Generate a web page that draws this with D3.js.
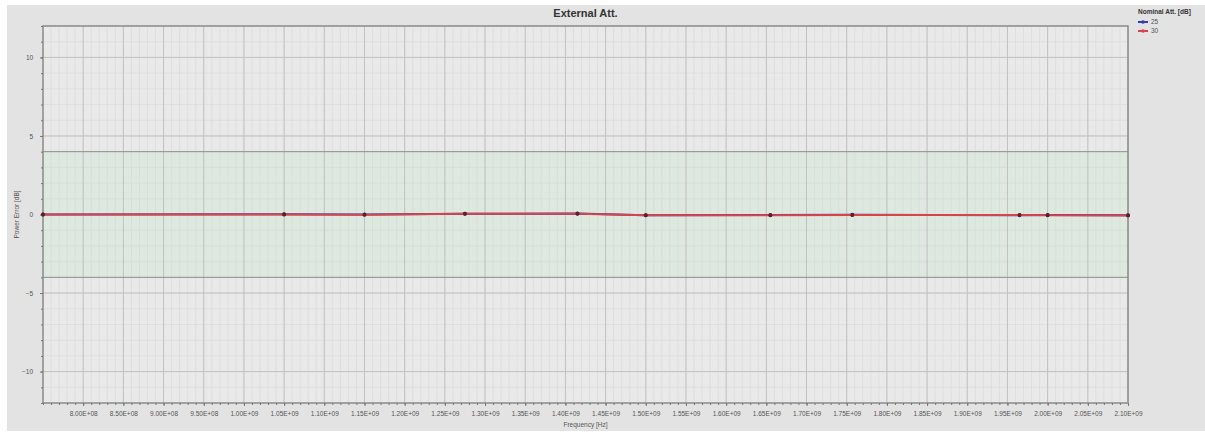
<!DOCTYPE html>
<html>
<head>
<meta charset="utf-8">
<script src="https://cdn.jsdelivr.net/npm/d3@7"></script>
<style>
  html, body { margin: 0; padding: 0; background: #fff; }
  svg { display: block; font-family: "Liberation Sans", Arial, sans-serif; }
</style>
</head>
<body>
<svg id="chart"></svg>
<script>
const width = 1205;
const height = 433;

// data
const freqs = [7.5e8, 1.05e9, 1.15e9, 1.275e9, 1.415e9, 1.5e9, 1.655e9, 1.757e9, 1.965e9, 2.0e9, 2.1e9];
const err25 = [0.0, 0.02, 0.0, 0.05, 0.06, -0.04, -0.03, -0.02, -0.04, -0.03, -0.05];
const err30 = [0.0, 0.0, -0.02, 0.04, 0.05, -0.05, -0.04, -0.03, -0.03, -0.04, -0.06];
const seriesNames = ["25", "30"];
const seriesColors = ["#2b3fb8", "#d9434a"];
const xTickValues = d3.range(8e8, 2.1e9 + 1, 5e7);
const yTickValues = [10, 5, 0, -5, -10];
const toleranceBand = [-4, 4];

const margin = { top: 26, right: 77, bottom: 30, left: 43 };

const svg = d3.select("#chart")
  .attr("width", width)
  .attr("height", height);

svg.append("rect")
  .attr("x", 7).attr("y", 5)
  .attr("width", width - 7).attr("height", 426)
  .attr("fill", "#e3e3e3");

const x = d3.scaleLinear()
  .domain([7.5e8, 2.1e9])
  .range([margin.left, width - margin.right]);

const y = d3.scaleLinear()
  .domain([-12, 12])
  .range([height - margin.bottom, margin.top]);

const plot = svg.append("g");

plot.append("rect")
  .attr("x", x.range()[0]).attr("y", y.range()[1])
  .attr("width", x.range()[1] - x.range()[0])
  .attr("height", y.range()[0] - y.range()[1])
  .attr("fill", "#e9e9e9");

// tolerance band
plot.append("rect")
  .attr("x", x.range()[0]).attr("y", y(toleranceBand[1]))
  .attr("width", x.range()[1] - x.range()[0])
  .attr("height", y(toleranceBand[0]) - y(toleranceBand[1]))
  .attr("fill", "#dde8df");

// minor grid
const xMinor = d3.range(7.5e8, 2.1e9 + 1, 1e7);
const yMinor = d3.range(-12, 12.01, 1);

plot.append("g").selectAll("line")
  .data(xMinor)
  .join("line")
  .attr("x1", d => x(d)).attr("x2", d => x(d))
  .attr("y1", y.range()[1]).attr("y2", y.range()[0])
  .attr("stroke", "#d6d6d6").attr("stroke-width", 0.6);

plot.append("g").selectAll("line")
  .data(yMinor)
  .join("line")
  .attr("x1", x.range()[0]).attr("x2", x.range()[1])
  .attr("y1", d => y(d)).attr("y2", d => y(d))
  .attr("stroke", "#d6d6d6").attr("stroke-width", 0.6);

// major grid
plot.append("g").selectAll("line")
  .data(xTickValues)
  .join("line")
  .attr("x1", d => x(d)).attr("x2", d => x(d))
  .attr("y1", y.range()[1]).attr("y2", y.range()[0])
  .attr("stroke", "#c2c2c2").attr("stroke-width", 1);

plot.append("g").selectAll("line")
  .data(yTickValues)
  .join("line")
  .attr("x1", x.range()[0]).attr("x2", x.range()[1])
  .attr("y1", d => y(d)).attr("y2", d => y(d))
  .attr("stroke", "#c2c2c2").attr("stroke-width", 1);

// band limits
plot.append("g").selectAll("line")
  .data(toleranceBand)
  .join("line")
  .attr("x1", x.range()[0]).attr("x2", x.range()[1])
  .attr("y1", d => y(d)).attr("y2", d => y(d))
  .attr("stroke", "#8f8f8f").attr("stroke-width", 1);

// frame
plot.append("rect")
  .attr("x", x.range()[0]).attr("y", y.range()[1])
  .attr("width", x.range()[1] - x.range()[0])
  .attr("height", y.range()[0] - y.range()[1])
  .attr("fill", "none")
  .attr("stroke", "#8c8c8c").attr("stroke-width", 1.5);

// axes
const xAxis = d3.axisBottom(x)
  .tickValues(xTickValues)
  .tickSize(3)
  .tickFormat(d => d3.format(".2e")(d).replace("e+", "E+0").toUpperCase());

svg.append("g")
  .attr("transform", `translate(0,${y.range()[0]})`)
  .call(d3.axisBottom(x).tickValues(xMinor).tickSize(2).tickFormat(""))
  .call(g => g.select(".domain").remove())
  .call(g => g.selectAll("line").attr("stroke", "#777"));

svg.append("g")
  .attr("transform", `translate(0,${y.range()[0]})`)
  .call(xAxis)
  .call(g => g.select(".domain").remove())
  .call(g => g.selectAll("line").attr("stroke", "#777"))
  .call(g => g.selectAll("text")
    .attr("font-size", 6.5).attr("fill", "#555").attr("dy", "1.1em"));

svg.append("g")
  .attr("transform", `translate(${x.range()[0]},0)`)
  .call(d3.axisLeft(y).tickValues(yMinor).tickSize(2).tickFormat(""))
  .call(g => g.select(".domain").remove())
  .call(g => g.selectAll("line").attr("stroke", "#777"));

svg.append("g")
  .attr("transform", `translate(${x.range()[0]},0)`)
  .call(d3.axisLeft(y).tickValues(yTickValues).tickSize(3).tickFormat(d3.format("d")))
  .call(g => g.select(".domain").remove())
  .call(g => g.selectAll("line").attr("stroke", "#777"))
  .call(g => g.selectAll("text")
    .attr("font-size", 6.5).attr("fill", "#555").attr("dx", "-0.6em"));

// series
const series = [err25, err30].map((vals, i) => ({
  name: seriesNames[i],
  color: seriesColors[i],
  values: freqs.map((f, j) => ({ f, v: vals[j] }))
}));

const line = d3.line()
  .x(d => x(d.f))
  .y(d => y(d.v));

const sg = svg.append("g").selectAll("g")
  .data(series)
  .join("g");

sg.append("path")
  .attr("d", d => line(d.values))
  .attr("fill", "none")
  .attr("stroke", d => d.color)
  .attr("stroke-width", 2);

sg.selectAll("circle")
  .data(d => d.values)
  .join("circle")
  .attr("cx", d => x(d.f))
  .attr("cy", d => y(d.v))
  .attr("r", 2)
  .attr("fill", "#5a2030");

// title & labels
svg.append("text")
  .attr("x", (x.range()[0] + x.range()[1]) / 2)
  .attr("y", 17)
  .attr("text-anchor", "middle")
  .attr("font-size", 11)
  .attr("font-weight", "bold")
  .attr("fill", "#333")
  .text("External Att.");

svg.append("text")
  .attr("x", (x.range()[0] + x.range()[1]) / 2)
  .attr("y", 427)
  .attr("text-anchor", "middle")
  .attr("font-size", 6.5)
  .attr("fill", "#555")
  .text("Frequency [Hz]");

svg.append("text")
  .attr("transform", `translate(19,${y(0)}) rotate(-90)`)
  .attr("text-anchor", "middle")
  .attr("font-size", 6.5)
  .attr("fill", "#555")
  .text("Power Error [dB]");

// legend
const legend = svg.append("g")
  .attr("transform", "translate(1138,14)");

legend.append("text")
  .attr("x", 0).attr("y", 0)
  .attr("font-size", 6.5)
  .attr("font-weight", "bold")
  .attr("fill", "#333")
  .text("Nominal Att. [dB]");

const li = legend.selectAll("g.item")
  .data(series)
  .join("g")
  .attr("class", "item")
  .attr("transform", (d, i) => `translate(0,${8 + i * 9})`);

li.append("line")
  .attr("x1", 0).attr("x2", 10)
  .attr("stroke", d => d.color)
  .attr("stroke-width", 2);

li.append("circle")
  .attr("cx", 5).attr("r", 1.8)
  .attr("fill", d => d.color);

li.append("text")
  .attr("x", 13).attr("dy", "0.35em")
  .attr("font-size", 6.5)
  .attr("fill", "#555")
  .text(d => d.name);
</script>
</body>
</html>
